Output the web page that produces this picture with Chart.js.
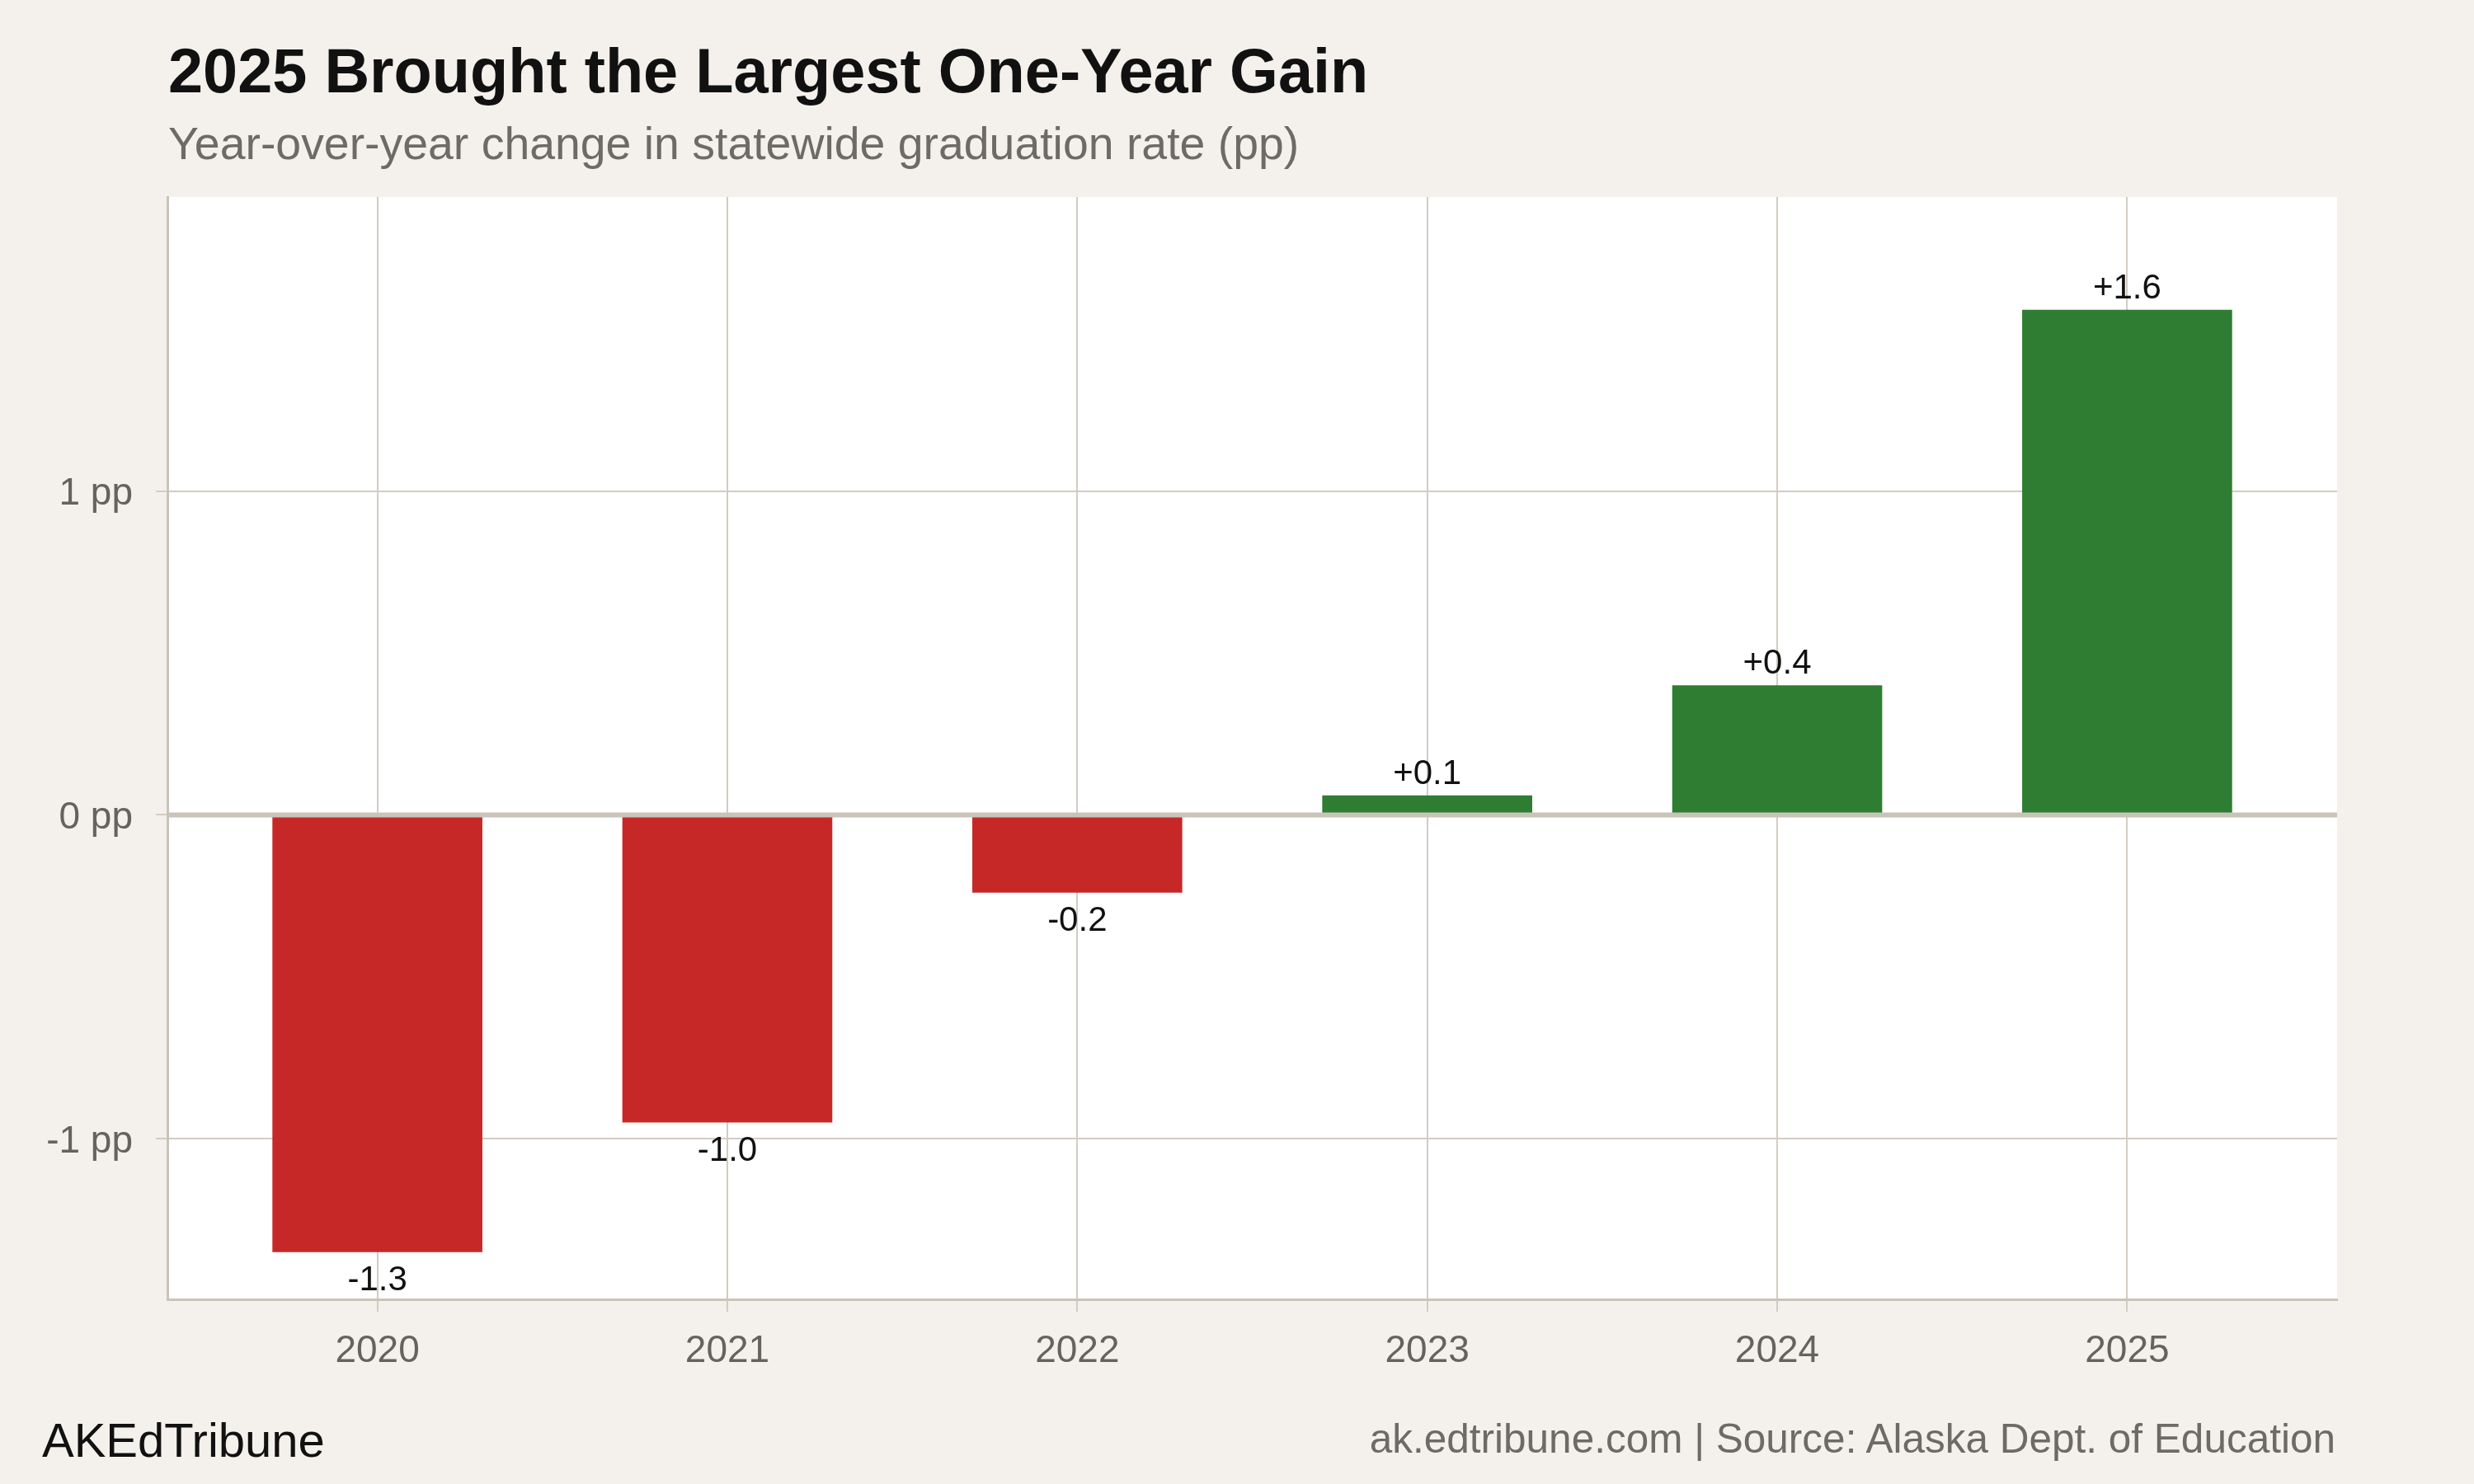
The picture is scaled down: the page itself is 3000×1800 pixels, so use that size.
<!DOCTYPE html>
<html>
<head>
<meta charset="utf-8">
<title>2025 Brought the Largest One-Year Gain</title>
<script src="https://cdn.jsdelivr.net/npm/chart.js@4.4.1/dist/chart.umd.min.js"></script>
<style>
  html, body { margin: 0; padding: 0; background: #f4f1ec; }
  body { width: 3000px; height: 1800px; position: relative; overflow: hidden;
         font-family: "Liberation Sans", Arial, Helvetica, sans-serif; }
  #grafico { position: absolute; left: 0; top: 0; }
  .txt { position: absolute; line-height: 1; white-space: nowrap; }
  #titulo { left: 204px; top: 48px; font-size: 75.7px; font-weight: bold; color: #111; }
  #subtitulo { left: 204px; top: 147px; font-size: 55.4px; color: #6e6a64; }
  #marca { left: 51px; top: 1718px; font-size: 58px; color: #111; }
  #fonte { right: 168px; top: 1720px; font-size: 49.5px; color: #6e6a64; }
</style>
</head>
<body>
<div id="titulo" class="txt">2025 Brought the Largest One-Year Gain</div>
<div id="subtitulo" class="txt">Year-over-year change in statewide graduation rate (pp)</div>
<canvas id="grafico" width="3000" height="1800"></canvas>
<div id="marca" class="txt">AKEdTribune</div>
<div id="fonte" class="txt">ak.edtribune.com | Source: Alaska Dept. of Education</div>

<script>
// dados
var anos = ['2020', '2021', '2022', '2023', '2024', '2025'];
var variacao = [-1.35, -0.95, -0.24, 0.06, 0.40, 1.56];
var rotulos = ['-1.3', '-1.0', '-0.2', '+0.1', '+0.4', '+1.6'];
var ticksY = [-1, 0, 1];

var corNeg = '#c62828';
var corPos = '#2e7d32';
var corGrade = '#d2ccc3';
var corEixo = '#c9c4ba';
var corTexto = '#66635c';
var fonte = '"Liberation Sans", Arial, Helvetica, sans-serif';

Chart.defaults.font.family = fonte;

var fundoBranco = {
    id: 'fundoBranco',
    beforeDraw: function(chart){
        var a = chart.chartArea;
        var ctx = chart.ctx;
        ctx.save();
        ctx.fillStyle = '#ffffff';
        ctx.fillRect(a.left, a.top, a.right - a.left, a.bottom - a.top);
        ctx.restore();
    }
};

var linhaZero = {
    id: 'linhaZero',
    afterDatasetsDraw: function(chart){
        var a = chart.chartArea;
        var ctx = chart.ctx;
        var y = chart.scales.y.getPixelForValue(0);
        ctx.save();
        ctx.strokeStyle = corEixo;
        ctx.lineWidth = 6;
        ctx.beginPath();
        ctx.moveTo(a.left, y);
        ctx.lineTo(a.right, y);
        ctx.stroke();
        ctx.restore();
    }
};

var rotulosBarras = {
    id: 'rotulosBarras',
    afterDatasetsDraw: function(chart){
        var ctx = chart.ctx;
        var meta = chart.getDatasetMeta(0);
        ctx.save();
        ctx.font = '42px ' + fonte;
        ctx.fillStyle = '#111111';
        ctx.textAlign = 'center';
        ctx.textBaseline = 'alphabetic';
        for(var i=0;i<meta.data.length;i++){
            var barra = meta.data[i];
            var y = variacao[i] >= 0 ? barra.y - 14 : barra.y + 46;
            ctx.fillText(rotulos[i], barra.x, y);
        }
        ctx.restore();
    }
};

var pontos = [];
for(var i=0;i<anos.length;i++){
    pontos.push({x: i, y: variacao[i]});
}

var grafico = new Chart('grafico', {
    type: 'bar',
    data: {
        datasets: [{
            data: pontos,
            backgroundColor: variacao.map(function(v){ return v < 0 ? corNeg : corPos; }),
            borderWidth: 0,
            barPercentage: 0.6,
            categoryPercentage: 1
        }]
    },
    options: {
        responsive: false,
        animation: false,
        devicePixelRatio: 1,
        layout: { padding: { top: 239, right: 166, left: 0, bottom: 0 } },
        plugins: {
            legend: { display: false },
            tooltip: { enabled: false }
        },
        scales: {
            x: {
                type: 'linear',
                min: -0.6,
                max: 5.6,
                offset: false,
                afterBuildTicks: function(axis){
                    axis.ticks = anos.map(function(a, i){ return {value: i}; });
                },
                afterFit: function(axis){ axis.height = 224; },
                grid: { offset: false, color: corGrade, lineWidth: 2, tickLength: 15, tickColor: corGrade, tickWidth: 2 },
                border: { color: corEixo, width: 3 },
                ticks: {
                    padding: 21,
                    color: corTexto,
                    font: { size: 46 },
                    autoSkip: false,
                    maxRotation: 0,
                    callback: function(v){ return anos[v]; }
                }
            },
            y: {
                min: -1.496,
                max: 1.908,
                afterBuildTicks: function(axis){
                    axis.ticks = ticksY.map(function(v){ return {value: v}; });
                },
                afterFit: function(axis){ axis.width = 203; },
                grid: { color: corGrade, lineWidth: 2, tickLength: 14, tickColor: corGrade, tickWidth: 2 },
                border: { color: corEixo, width: 3 },
                ticks: {
                    padding: 28,
                    labelOffset: 4,
                    color: corTexto,
                    font: { size: 46 },
                    callback: function(v){ return v + ' pp'; }
                }
            }
        }
    },
    plugins: [fundoBranco, linhaZero, rotulosBarras]
});
</script>
</body>
</html>
